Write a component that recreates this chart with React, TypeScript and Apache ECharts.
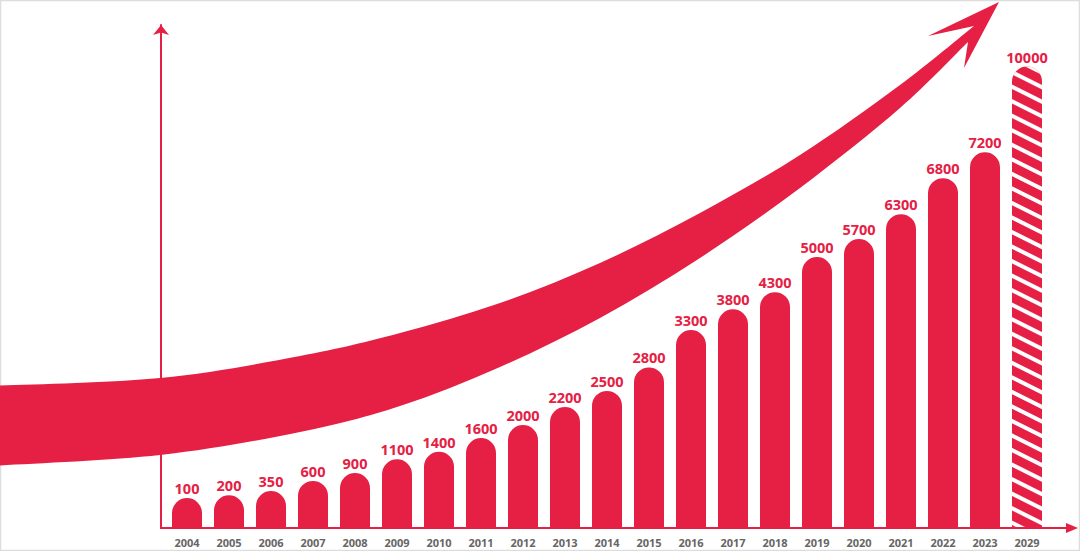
import React, { useEffect, useRef } from "react";
import * as echarts from "echarts";

// ---- data ----
const years = [
  "2004", "2005", "2006", "2007", "2008", "2009", "2010", "2011", "2012", "2013",
  "2014", "2015", "2016", "2017", "2018", "2019", "2020", "2021", "2022", "2023", "2029",
];
const values = [
  100, 200, 350, 600, 900, 1100, 1400, 1600, 2000, 2200,
  2500, 2800, 3300, 3800, 4300, 5000, 5700, 6300, 6800, 7200, 10000,
];
// visual bar height as drawn in the picture (% of the tallest bar)
const barLevels = [
  6.5, 7.1, 8, 10.2, 11.9, 14.9, 16.5, 19.5, 22.3, 26.2,
  29.7, 34.8, 42.9, 47.4, 51.1, 58.7, 62.6, 68, 75.8, 81.4, 100,
];
const forecastYears = ["2029"];

// ---- decoration: growth arrow outline ----
const arrowTop = [
  [-10, 386], [160, 378], [300, 356], [400, 333], [500, 303],
  [600, 263], [700, 213], [800, 155], [900, 85], [974, 26],
];
const arrowHead = [[928, 36], [999, 2], [964, 68]];
const arrowBottom = [
  [-10, 466], [160, 455], [300, 432], [400, 406], [500, 367],
  [600, 318], [700, 258], [800, 188], [900, 108], [968, 42],
];

const RED = "#E52044";
const FONT = "'Open Sans', 'DejaVu Sans', sans-serif";

function smoothSegments(pts: number[][]): string {
  let d = "";
  for (let i = 0; i < pts.length - 1; i++) {
    const p0 = pts[Math.max(i - 1, 0)];
    const p1 = pts[i];
    const p2 = pts[i + 1];
    const p3 = pts[Math.min(i + 2, pts.length - 1)];
    const c1x = p1[0] + (p2[0] - p0[0]) / 6;
    const c1y = p1[1] + (p2[1] - p0[1]) / 6;
    const c2x = p2[0] - (p3[0] - p1[0]) / 6;
    const c2y = p2[1] - (p3[1] - p1[1]) / 6;
    d += ` C ${c1x} ${c1y} ${c2x} ${c2y} ${p2[0]} ${p2[1]}`;
  }
  return d;
}

function buildArrowPath(): string {
  const bottomRev = [...arrowBottom].reverse();
  let d = `M ${arrowTop[0][0]} ${arrowTop[0][1]}`;
  d += smoothSegments(arrowTop);
  arrowHead.forEach((p) => {
    d += ` L ${p[0]} ${p[1]}`;
  });
  d += ` L ${bottomRev[0][0]} ${bottomRev[0][1]}`;
  d += smoothSegments(bottomRev);
  d += " Z";
  return d;
}

let registered = false;
function ensureShape() {
  if (registered) return;
  echarts.graphic.registerShape(
    "growthArrow",
    echarts.graphic.extendPath(buildArrowPath(), {})
  );
  registered = true;
}

export default function App() {
  const ref = useRef<HTMLDivElement>(null);

  useEffect(() => {
    if (!ref.current) return;
    ensureShape();
    const chart = echarts.init(ref.current, undefined, { renderer: "svg" });

    const seriesData = barLevels.map((v, i) =>
      forecastYears.includes(years[i])
        ? {
            value: v,
            itemStyle: {
              color: RED,
              decal: {
                symbol: "rect",
                symbolSize: 1,
                dashArrayX: [1, 0],
                dashArrayY: [4, 9],
                rotation: Math.atan(0.5),
                color: "#ffffff",
              },
            },
          }
        : v
    );

    chart.setOption({
      animation: false,
      backgroundColor: "#ffffff",
      grid: { left: 166, right: 32, top: 25, bottom: 23 },
      xAxis: {
        type: "category",
        data: years,
        axisLine: { show: false },
        axisTick: { show: false },
        axisLabel: {
          color: "#666666",
          fontFamily: FONT,
          fontWeight: "bold",
          fontSize: 11,
          margin: 9,
        },
      },
      yAxis: {
        type: "value",
        min: 0,
        max: 109,
        offset: 5,
        axisLine: {
          show: true,
          symbol: ["none", "arrow"],
          symbolSize: [12, 10],
          lineStyle: { color: RED, width: 2 },
        },
        axisTick: { show: false },
        axisLabel: { show: false },
        splitLine: { show: false },
      },
      series: [
        {
          type: "bar",
          data: seriesData,
          barWidth: 30,
          itemStyle: { color: RED, borderRadius: [15, 15, 0, 0] },
          label: {
            show: true,
            position: "top",
            distance: 2,
            color: RED,
            fontFamily: FONT,
            fontWeight: "bold",
            fontSize: 14.5,
            formatter: (p: any) => String(values[p.dataIndex]),
          },
        },
      ],
      graphic: [
        {
          type: "rect",
          z: 0,
          silent: true,
          shape: { x: 0.5, y: 0.5, width: 1079, height: 550 },
          style: { fill: "none", stroke: "#dddddd", lineWidth: 1.5 },
        },
        {
          type: "line",
          z: 5,
          silent: true,
          shape: { x1: 160, y1: 528, x2: 1070, y2: 528 },
          style: { stroke: RED, lineWidth: 2 },
        },
        {
          type: "polygon",
          z: 5,
          silent: true,
          shape: { points: [[1066, 523], [1078, 528], [1066, 533]] },
          style: { fill: RED },
        },
        {
          type: "growthArrow",
          z: 10,
          silent: true,
          x: 0,
          y: 0,
          style: { fill: RED },
        },
      ],
    });

    return () => chart.dispose();
  }, []);

  return (
    <div
      ref={ref}
      style={{ position: "fixed", left: 0, top: 0, width: 1080, height: 551 }}
    />
  );
}
